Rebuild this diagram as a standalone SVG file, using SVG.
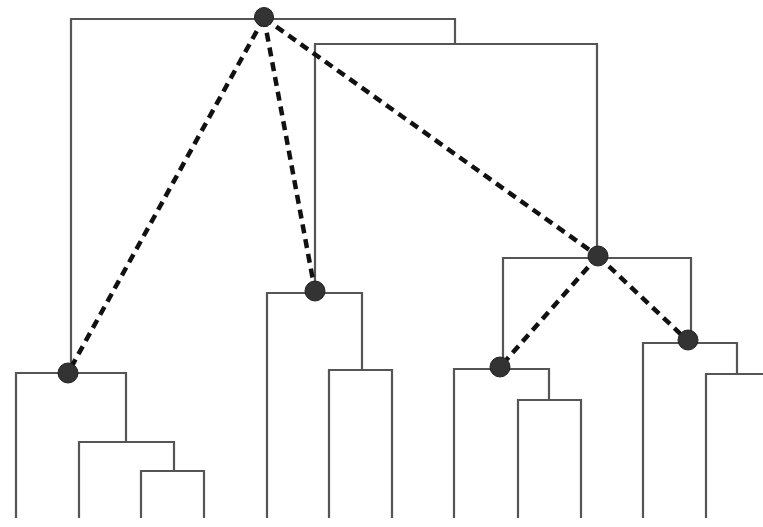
<svg xmlns="http://www.w3.org/2000/svg" width="763" height="527" viewBox="0 0 763 527">
  <style>
    .tree { fill: none; stroke: #555; stroke-width: 2.2; stroke-linecap: butt; stroke-linejoin: miter; }
    .link { fill: none; stroke: #111; stroke-width: 4.5; stroke-dasharray: 9 6; }
    .dot { fill: #333; stroke: #222; stroke-width: 1; }
  </style>
  <rect width="763" height="527" fill="#fff"/>

  <!-- dendrogram branches -->
  <g id="dendrogram" class="tree">
    <!-- root merge -->
    <polyline points="71,373 71,19 455,19 455,44"/>
    <polyline points="315,293 315,44 597,44 597,258"/>
    <!-- left cluster -->
    <polyline points="16,518 16,373 126,373 126,442"/>
    <polyline points="79,518 79,442 174,442 174,471"/>
    <polyline points="141,518 141,471 204,471 204,518"/>
    <!-- middle cluster -->
    <polyline points="267,518 267,293 362,293 362,370"/>
    <polyline points="329,518 329,370 392,370 392,518"/>
    <!-- right cluster -->
    <polyline points="503,369 503,258 691,258 691,343"/>
    <polyline points="454,518 454,369 549,369 549,400"/>
    <polyline points="518,518 518,400 581,400 581,518"/>
    <polyline points="643,518 643,343 737,343 737,374"/>
    <polyline points="706,518 706,374 763,374"/>
  </g>

  <!-- dashed links between cluster centres -->
  <g id="connectors" class="link">
    <line x1="264" y1="18" x2="68" y2="373"/>
    <line x1="264" y1="18" x2="315" y2="291"/>
    <line x1="264" y1="18" x2="598" y2="256"/>
    <line x1="598" y1="256" x2="500" y2="367"/>
    <line x1="598" y1="256" x2="688" y2="341"/>
  </g>

  <g id="node-root"><circle class="dot" cx="264" cy="17" r="9.5"/></g>
  <g id="node-left"><circle class="dot" cx="68" cy="373" r="10"/></g>
  <g id="node-middle"><circle class="dot" cx="315" cy="291" r="10"/></g>
  <g id="node-right"><circle class="dot" cx="598" cy="256" r="10"/></g>
  <g id="node-right-a"><circle class="dot" cx="500" cy="367" r="10"/></g>
  <g id="node-right-b"><circle class="dot" cx="688" cy="340" r="10"/></g>
</svg>
